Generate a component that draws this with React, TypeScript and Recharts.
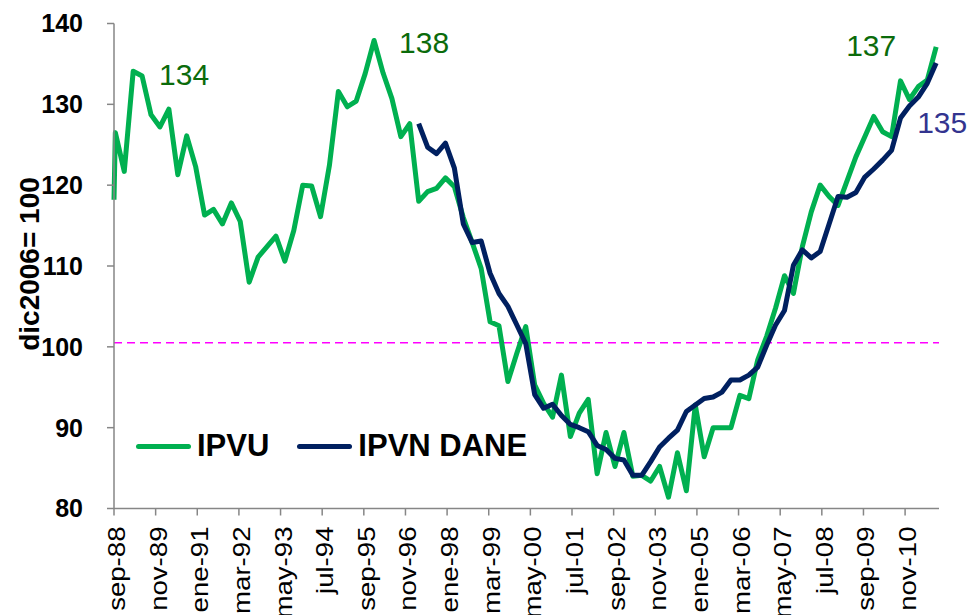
import React from 'react';
import { LineChart, Line, XAxis, YAxis, ReferenceLine, ReferenceDot } from 'recharts';

// axis labels, one every 14 months starting sep-88
const tickLabels = [
  'sep-88', 'nov-89', 'ene-91', 'mar-92', 'may-93', 'jul-94', 'sep-95',
  'nov-96', 'ene-98', 'mar-99', 'may-00', 'jul-01', 'sep-02', 'nov-03',
  'ene-05', 'mar-06', 'may-07', 'jul-08', 'sep-09', 'nov-10',
];
const yTicks = [80, 90, 100, 110, 120, 130, 140];

// quarterly index values (dic2006 = 100)
const ipvuStart = 118.2;
const ipvu = [
  126.5, 121.7, 134.1, 133.5, 128.7, 127.2, 129.4, 121.3, 126.1, 122.3,
  116.3, 117.0, 115.2, 117.8, 115.5, 108.0, 111.1, 112.4, 113.7, 110.6,
  114.4, 120.0, 119.9, 116.1, 122.5, 131.6, 129.7, 130.4, 133.8, 137.9,
  133.9, 130.7, 126.0, 127.6, 118.0, 119.2, 119.6, 120.9, 119.8, 116.0,
  112.9, 109.7, 103.1, 102.6, 95.7, 99.2, 102.5, 95.3, 93.0, 91.3,
  96.5, 88.9, 91.8, 93.5, 84.3, 89.4, 85.2, 89.4, 84.0, 84.1,
  83.4, 85.2, 81.4, 86.9, 82.2, 92.8, 86.4, 90.0, 90.0, 90.0,
  94.0, 93.6, 98.4, 101.3, 104.8, 108.8, 106.6, 112.4, 116.7, 120.0,
  118.6, 117.5, 120.5, 123.5, 126.0, 128.5, 126.6, 126.0, 132.9, 130.6,
  132.2, 133.0, 137.1,
];
const ipvnFirst = 34; // quarter where IPVN DANE starts
const ipvnDane = [
  127.6, 124.7, 123.9, 125.2, 122.1, 115.2, 112.9, 113.1, 109.1, 106.6,
  105.0, 102.7, 100.4, 94.1, 92.4, 92.9, 91.5, 90.4, 90.0, 89.5,
  87.8, 87.3, 86.2, 86.0, 84.1, 84.1, 85.8, 87.6, 88.7, 89.7,
  92.0, 92.8, 93.6, 93.8, 94.4, 95.9, 95.9, 96.5, 97.5, 100.2,
  102.7, 104.5, 110.1, 112.0, 111.0, 111.8, 115.2, 118.6, 118.5, 119.1,
  121.0, 122.0, 123.1, 124.3, 128.3, 129.8, 130.9, 132.6, 135.1,
];
const baseLevel = 100.5;

const GREEN = '#00B050';
const NAVY = '#002060';
const FONT = '"Liberation Sans", Arial, sans-serif';

// months counted from sep-88
const data = [
  { m: 0, ipvu: ipvuStart, ipvn: null as number | null },
  ...ipvu.map((v, k) => ({
    m: 0.45 + 3 * k,
    ipvu: v,
    ipvn: k >= ipvnFirst ? ipvnDane[k - ipvnFirst] : null,
  })),
];

const callouts = [
  { text: '134', q: 3, key: 'ipvu', dx: 17, dy: 9, color: '#0B6B0B' },
  { text: '138', q: 29, key: 'ipvu', dx: 25, dy: 12.5, color: '#0B6B0B' },
  { text: '137', q: 92, key: 'ipvu', dx: -90, dy: 8.6, color: '#0B6B0B' },
  { text: '135', q: 92, key: 'ipvn', dx: -19, dy: 69.4, color: '#33348F' },
];

// the original labels are drawn tall and the longest run off the bottom edge
const XTick = (props: any) => {
  const { x, y, payload } = props;
  const label = tickLabels[Math.round(payload.value / 14)];
  return (
    <text
      transform={`translate(${x + 11},${y + 1}) rotate(-90) scale(1.2,1)`}
      textAnchor="end"
      fontSize={23}
      fontFamily={FONT}
      fill="#000"
    >
      {label}
    </text>
  );
};

const LegendBox = () => (
  <div
    style={{
      position: 'absolute', left: 136, top: 429, display: 'flex', alignItems: 'center',
      fontFamily: FONT, fontWeight: 'bold', fontSize: 31, lineHeight: '34px', color: '#000',
    }}
  >
    <span style={{ width: 55, height: 5, background: GREEN, borderRadius: 3, marginRight: 6 }} />
    <span style={{ marginRight: 28 }}>IPVU</span>
    <span style={{ width: 55, height: 5, background: NAVY, borderRadius: 3, marginRight: 6 }} />
    <span>IPVN DANE</span>
  </div>
);

export default function App() {
  return (
    <div style={{ position: 'absolute', left: 0, top: 0, width: 973, height: 615, background: '#fff', overflow: 'hidden' }}>
      <LineChart
        width={973}
        height={615}
        data={data}
        margin={{ top: 23.5, right: 34, bottom: 6.5, left: 24 }}
      >
        <XAxis
          dataKey="m"
          type="number"
          domain={[0, 277.4]}
          ticks={tickLabels.map((_, i) => i * 14)}
          interval={0}
          height={100}
          tick={<XTick />}
          tickSize={7}
          tickMargin={10}
          axisLine={{ stroke: '#868686', strokeWidth: 1.5 }}
          tickLine={{ stroke: '#868686', strokeWidth: 1.5 }}
        />
        <YAxis
          domain={[80, 140]}
          ticks={yTicks}
          width={90}
          tickSize={7}
          tickMargin={24}
          axisLine={{ stroke: '#868686', strokeWidth: 1.5 }}
          tickLine={{ stroke: '#868686', strokeWidth: 1.5 }}
          tick={{ fontSize: 25, fontWeight: 'bold', fill: '#000', fontFamily: FONT }}
          label={{
            content: () => (
              <text
                transform="translate(29,264) rotate(-90)"
                textAnchor="middle"
                dominantBaseline="central"
                fontSize={28}
                fontWeight="bold"
                fontFamily={FONT}
                fill="#000"
              >
                dic2006= 100
              </text>
            ),
          }}
        />
        <ReferenceLine y={baseLevel} stroke="#FF00FF" strokeWidth={1.5} strokeDasharray="8 5" />
        <Line
          dataKey="ipvu"
          stroke={GREEN}
          strokeWidth={5}
          dot={false}
          strokeLinejoin="round"
          isAnimationActive={false}
        />
        <Line
          dataKey="ipvn"
          stroke={NAVY}
          strokeWidth={5}
          dot={false}
          strokeLinejoin="round"
          isAnimationActive={false}
        />
        {callouts.map((c) => {
          const row = data[c.q + 1] as any;
          return (
            <ReferenceDot
              key={c.text + c.key}
              x={row.m}
              y={row[c.key]}
              r={1}
              fill="none"
              stroke="none"
              label={{
                content: (p: any) => {
                  const vb = p.viewBox || {};
                  const cx = (vb.x ?? 0) + (vb.width ?? 0) / 2;
                  const cy = (vb.y ?? 0) + (vb.height ?? 0) / 2;
                  return (
                    <text x={cx + c.dx} y={cy + c.dy} fontSize={30} fontFamily={FONT} fill={c.color}>
                      {c.text}
                    </text>
                  );
                },
              }}
            />
          );
        })}
      </LineChart>
      <LegendBox />
    </div>
  );
}
